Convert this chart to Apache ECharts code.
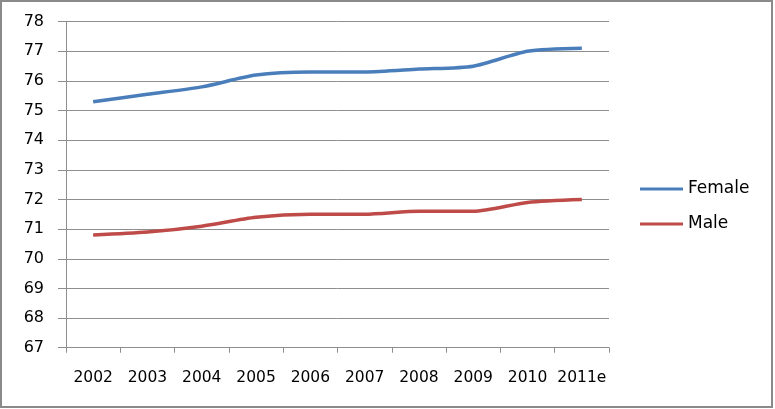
<!DOCTYPE html>
<html>
<head>
<meta charset="utf-8">
<script src="https://cdn.jsdelivr.net/npm/echarts@6/dist/echarts.min.js"></script>
<style>
html,body{margin:0;padding:0;background:#fff;}
#chart{width:775px;height:409px;}
</style>
</head>
<body>
<div id="chart"></div>
<script>
const categories = ['2002','2003','2004','2005','2006','2007','2008','2009','2010','2011e'];
const female = [75.3, 75.55, 75.8, 76.2, 76.3, 76.3, 76.4, 76.5, 77.0, 77.1];
const male = [70.8, 70.9, 71.1, 71.4, 71.5, 71.5, 71.6, 71.6, 71.9, 72.0];
const yMin = 67, yMax = 78, yStep = 1;

const chart = echarts.init(document.getElementById('chart'), null, {renderer:'canvas'});
const gray = '#8e8e8e';
const font = 'DejaVu Sans';
chart.setOption({
  animation: false,
  backgroundColor: '#ffffff',
  graphic: [{
    type: 'rect', silent: true, z: 100,
    shape: {x: 1, y: 1, width: 771, height: 406},
    style: {fill: 'none', stroke: '#8a8a8a', lineWidth: 2}
  }],
  grid: {left: 66, right: 166, top: 21.7, bottom: 61.3, containLabel: false},
  legend: {
    orient: 'vertical', left: 635, top: 175,
    itemWidth: 43, itemHeight: 3, itemGap: 17,
    icon: 'rect',
    textStyle: {fontFamily: font, fontSize: 17, color: '#000', lineHeight: 18},
    data: ['Female', 'Male']
  },
  xAxis: {
    type: 'category', data: categories, boundaryGap: true,
    axisLine: {lineStyle: {color: gray, width: 1}},
    axisTick: {show: true, length: 5, lineStyle: {color: gray}},
    axisLabel: {fontFamily: font, fontSize: 15.5, color: '#000', margin: 22, interval: 0}
  },
  yAxis: {
    type: 'value', min: yMin, max: yMax, interval: yStep,
    axisLine: {show: true, lineStyle: {color: gray, width: 1}},
    axisTick: {show: true, length: 8, lineStyle: {color: gray}},
    splitLine: {show: true, lineStyle: {color: gray, width: 1}},
    axisLabel: {fontFamily: font, fontSize: 16, color: '#000', margin: 22}
  },
  series: [
    {name: 'Female', type: 'line', data: female, smooth: 0.25, symbol: 'none',
     lineStyle: {color: '#4a7ebb', width: 3.5}, itemStyle: {color: '#4a7ebb'}},
    {name: 'Male', type: 'line', data: male, smooth: 0.25, symbol: 'none',
     lineStyle: {color: '#be4b48', width: 3.5}, itemStyle: {color: '#be4b48'}}
  ]
});
</script>
</body>
</html>
